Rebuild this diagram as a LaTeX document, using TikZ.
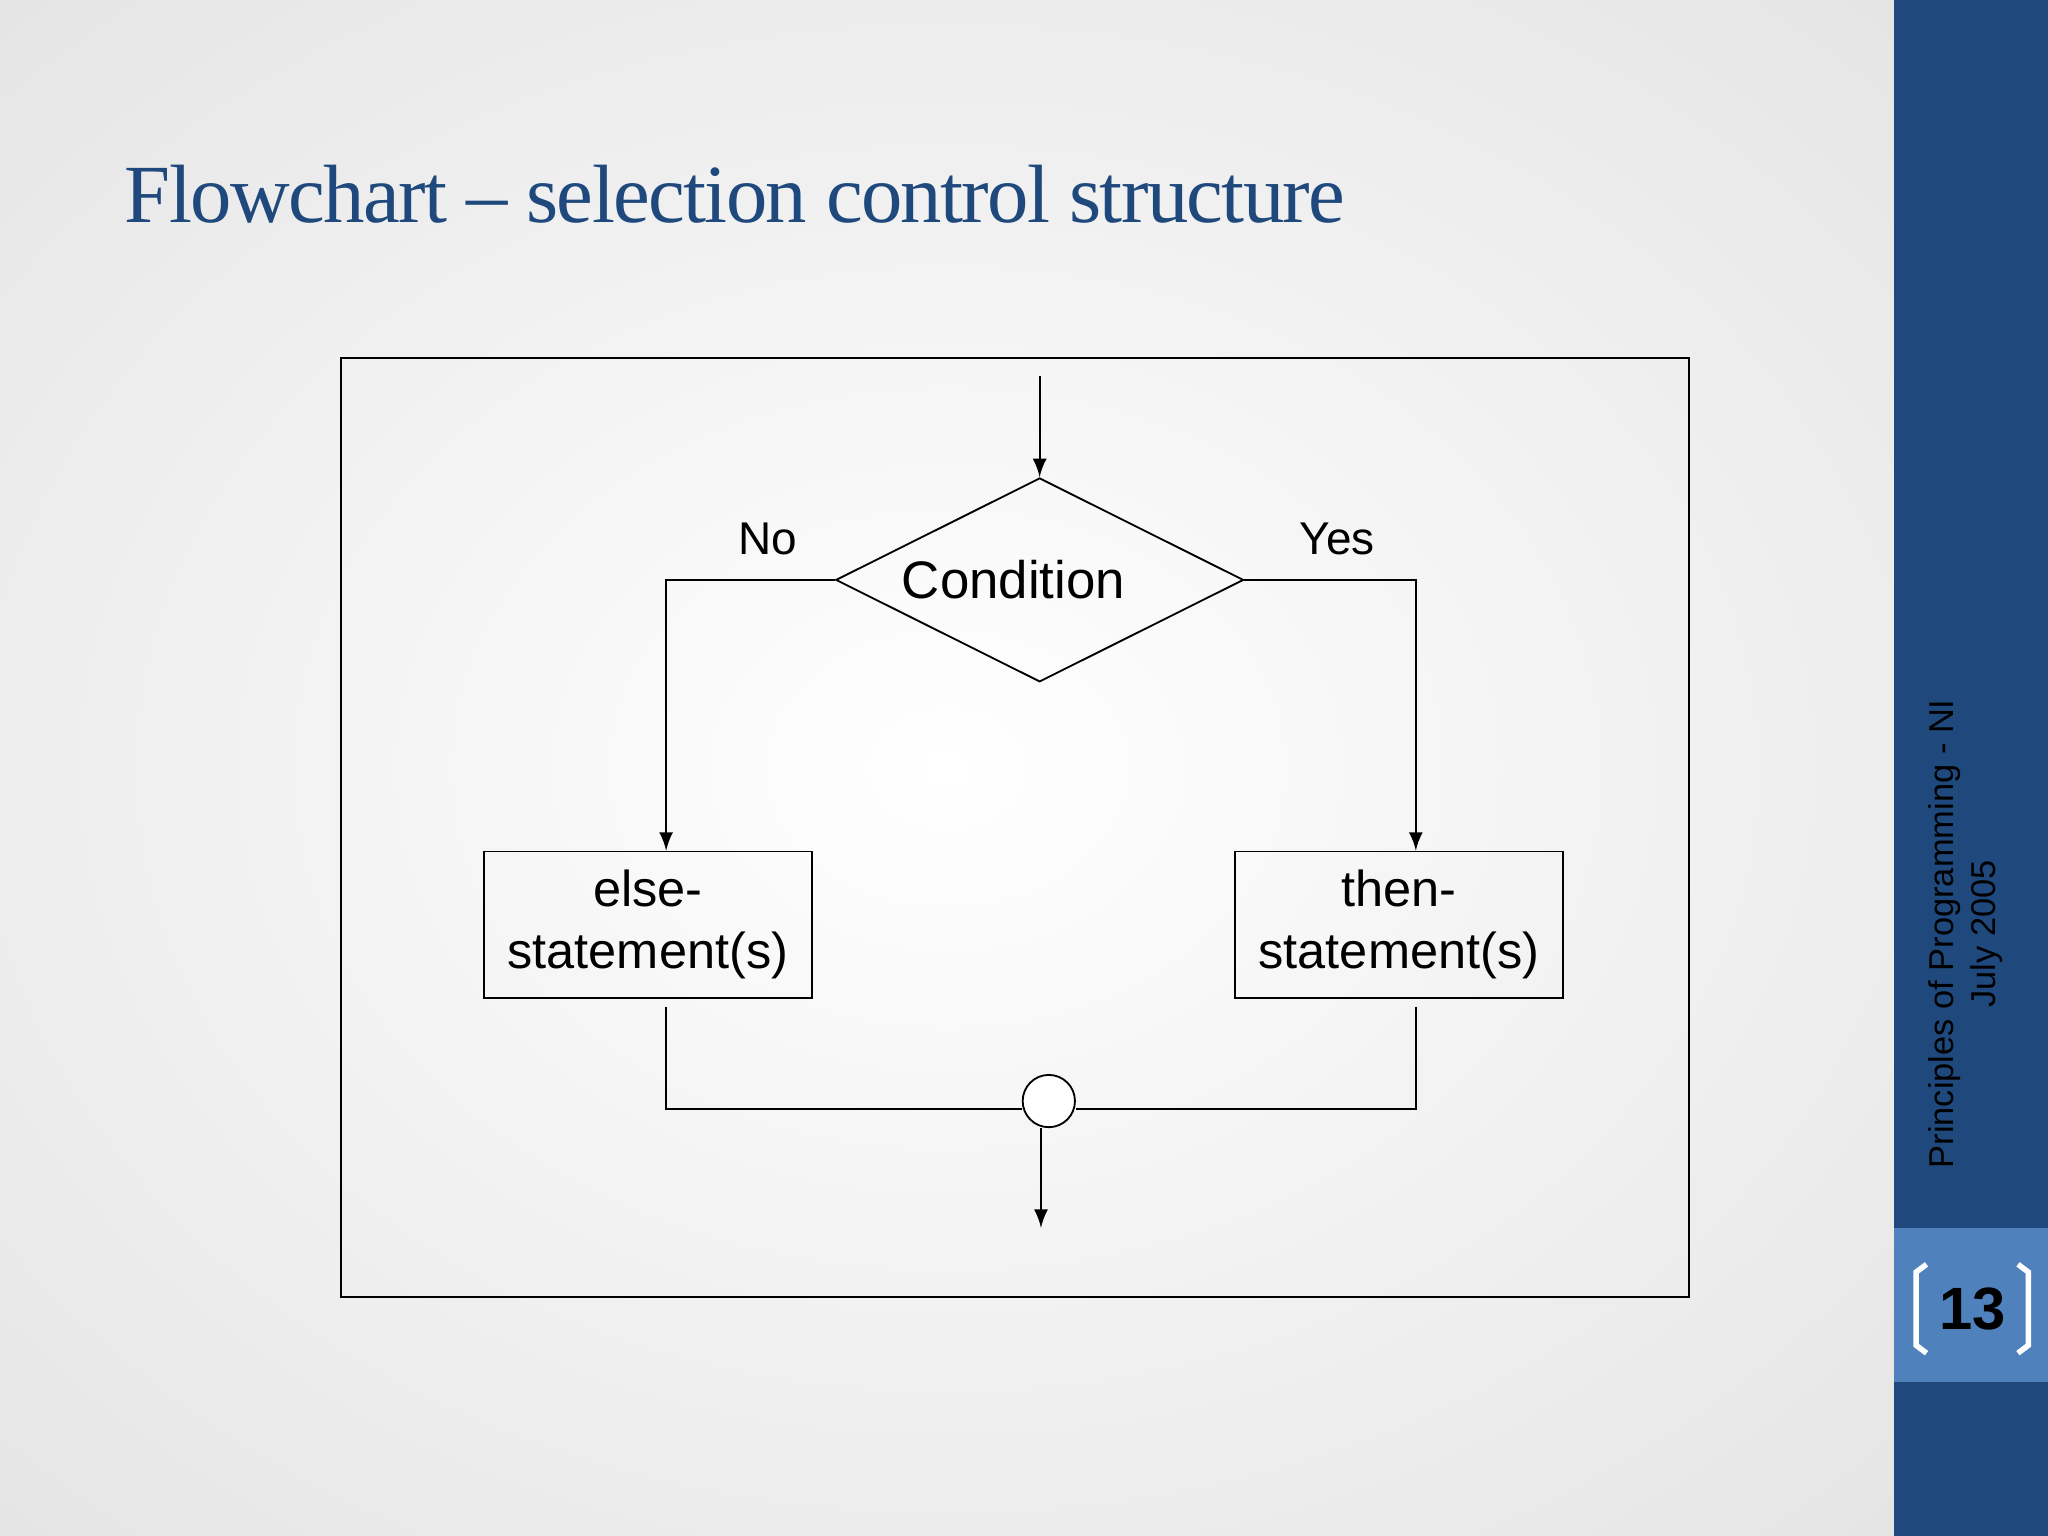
\documentclass[tikz,border=0pt]{standalone}
\usepackage{fontspec}
\setmainfont{Liberation Sans}
\newfontfamily\titlefont{Liberation Serif}
\usetikzlibrary{shapes.geometric, arrows}
\definecolor{darkband}{RGB}{31,73,125}
\definecolor{lightband}{RGB}{79,129,189}
\tikzstyle{decision} = [diamond, aspect=2, minimum width=3.12cm, minimum height=1.56cm, inner sep=0pt, draw=black, font=\fontsize{11.5}{14}\selectfont]
\tikzstyle{process} = [rectangle, minimum width=2.51cm, minimum height=1.12cm, text centered, align=center, draw=black, font=\fontsize{11}{13.5}\selectfont]
\tikzstyle{joint} = [circle, minimum size=0.4cm, inner sep=0pt, draw=black, fill=white]
\tikzstyle{arrow} = [->,>=latex]
\tikzstyle{label} = [font=\fontsize{10}{12}\selectfont]

\begin{document}
\begin{tikzpicture}[x=0.01cm, y=-0.01cm]
    \useasboundingbox (0,0) rectangle (1568,1176);
    \shade[inner color=white, outer color=gray!20] (-300,-200) rectangle (1750,1376);
    \fill[darkband] (1450,0) rectangle (1568,1176);
    \fill[lightband] (1450,940) rectangle (1568,1058);
    \draw[white, line width=1.2pt] (1475,968) -- (1467,974) -- (1467,1030) -- (1475,1036);
    \draw[white, line width=1.2pt] (1545,968) -- (1553,974) -- (1553,1030) -- (1545,1036);
    \node (page) at (1510,1002) {\fontsize{13}{16}\selectfont\bfseries 13};
    \node (footer) [rotate=90, align=center, font=\fontsize{7.5}{9}\selectfont] at (1505,715) {Principles of Programming - NI\\July 2005};
    \node (title) [anchor=base west, inner sep=0pt, text=darkband] at (95,170) {\titlefont\fontsize{18}{20}\selectfont\addfontfeature{LetterSpace=-2}Flowchart – selection control structure};

    % frame
    \draw (261,274) rectangle (1293,993);

    \coordinate (in) at (796,288);
    \node (cond) [decision] at (796,444) {\hspace*{-0.4cm}Condition};
    \node (else) [process] at (496,708) {else-\\statement(s)};
    \node (then) [process] at (1071,708) {then-\\statement(s)};
    \node (join) [joint] at (803,843) {};
    \coordinate (out) at (797,940);

    \draw [arrow] (in) -- (cond.north);
    \draw [arrow] (cond.west) -| (else.north -| 510,0) node[label, pos=0.2, above=2pt] {No};
    \draw [arrow] (cond.east) -| (then.north -| 1084,0) node[label, pos=0.27, above=2pt] {Yes};
    \draw ([yshift=-0.06cm]else.south -| 510,0) |- ([yshift=-0.06cm]join.west);
    \draw ([yshift=-0.06cm]then.south -| 1084,0) |- ([yshift=-0.06cm]join.east);
    \draw [arrow] (join.south -| out) -- (out);
\end{tikzpicture}
\end{document}
